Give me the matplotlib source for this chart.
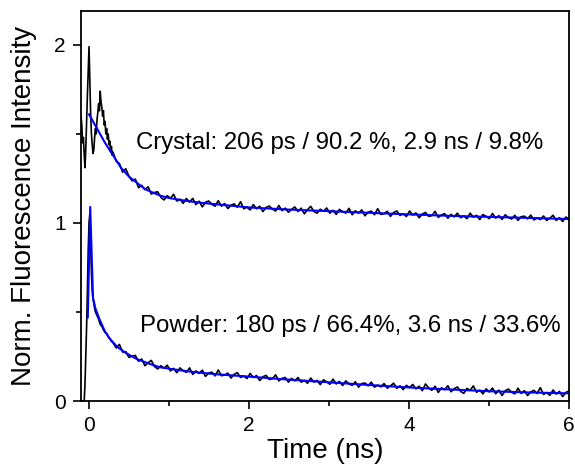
"""Fluorescence decay of crystal and powder samples with biexponential fits"""
import numpy as np
import matplotlib
matplotlib.use("Agg")
import matplotlib.pyplot as plt  # pylint: disable=import-error
from matplotlib.ticker import MultipleLocator

plt.rcParams["font.family"] = ["Liberation Sans", "DejaVu Sans"]

# crystal trace (offset by +1), early part sampled finely
crystal_t_early = [-0.1, -0.09, -0.08, -0.07, -0.06, -0.05, -0.04, -0.03, -0.02, -0.01,
                   0.0, 0.01, 0.02, 0.03, 0.04, 0.05, 0.06, 0.07, 0.08, 0.09,
                   0.1, 0.11, 0.12, 0.13, 0.14, 0.15, 0.16, 0.17, 0.18, 0.19,
                   0.2, 0.21, 0.22, 0.23, 0.24, 0.25, 0.26, 0.27, 0.28, 0.29]
crystal_early = [1.60, 1.55, 1.45, 1.48, 1.38, 1.31, 1.42, 1.58, 1.72, 1.86,
                 1.99, 1.80, 1.62, 1.50, 1.44, 1.39, 1.41, 1.48, 1.53, 1.50,
                 1.58, 1.62, 1.67, 1.63, 1.74, 1.68, 1.65, 1.60, 1.63, 1.55,
                 1.57, 1.50, 1.53, 1.47, 1.50, 1.44, 1.46, 1.40, 1.43, 1.38]
# tail from 0.3 ns to 6 ns, ~0.04 ns per sample
crystal_tail = [
    1.398, 1.346, 1.334, 1.285, 1.304, 1.262, 1.236, 1.246, 1.198, 1.211,
    1.187, 1.203, 1.162, 1.171, 1.175, 1.144, 1.129, 1.153, 1.138, 1.161,
    1.123, 1.133, 1.110, 1.137, 1.117, 1.138, 1.103, 1.122, 1.090, 1.116,
    1.123, 1.104, 1.094, 1.125, 1.094, 1.109, 1.081, 1.099, 1.107, 1.088,
    1.119, 1.079, 1.089, 1.073, 1.103, 1.079, 1.094, 1.064, 1.087, 1.095,
    1.077, 1.067, 1.098, 1.069, 1.083, 1.060, 1.076, 1.090, 1.064, 1.083,
    1.051, 1.075, 1.093, 1.064, 1.055, 1.077, 1.065, 1.084, 1.055, 1.071,
    1.048, 1.076, 1.063, 1.055, 1.082, 1.046, 1.068, 1.055, 1.073, 1.040,
    1.060, 1.066, 1.046, 1.080, 1.048, 1.052, 1.065, 1.037, 1.058, 1.067,
    1.042, 1.051, 1.036, 1.067, 1.044, 1.056, 1.029, 1.050, 1.059, 1.037,
    1.041, 1.065, 1.031, 1.045, 1.052, 1.026, 1.048, 1.034, 1.055, 1.029,
    1.039, 1.024, 1.055, 1.032, 1.043, 1.019, 1.047, 1.037, 1.024, 1.053,
    1.027, 1.041, 1.020, 1.046, 1.030, 1.022, 1.043, 1.014, 1.035, 1.038,
    1.023, 1.044, 1.017, 1.028, 1.019, 1.039, 1.014, 1.027, 1.043, 1.014,
    1.029, 1.008, 1.033, 1.022]

crystal_fit_t = [0.0, 0.1, 0.2, 0.3, 0.4, 0.5, 0.6, 0.7, 0.8, 0.9, 1.0, 1.2, 1.4, 1.7,
                 2.0, 2.5, 3.0, 3.5, 4.0, 4.5, 5.0, 5.5, 6.0]
crystal_fit = [1.61, 1.53, 1.45, 1.38, 1.31, 1.26, 1.225, 1.19, 1.17, 1.152, 1.14, 1.125,
               1.113, 1.10, 1.087, 1.075, 1.066, 1.057, 1.048, 1.04, 1.034, 1.028, 1.022]

# powder trace
powder_t_early = [-0.1, -0.06, -0.05, -0.04, -0.03, -0.02, -0.01, 0.0, 0.01, 0.02, 0.03,
                  0.04, 0.05, 0.06, 0.07, 0.08, 0.1, 0.12, 0.14, 0.16, 0.18, 0.2, 0.22,
                  0.24, 0.26, 0.28]
powder_early = [0.0, 0.0, 0.10, 0.25, 0.42, 0.62, 0.85, 1.0, 1.05, 0.90, 0.72,
                0.62, 0.57, 0.55, 0.52, 0.50, 0.48, 0.46, 0.43, 0.42, 0.40, 0.385, 0.38,
                0.36, 0.35, 0.335]
powder_tail = [
    0.327, 0.298, 0.318, 0.275, 0.277, 0.245, 0.252, 0.256, 0.223, 0.236,
    0.198, 0.215, 0.228, 0.194, 0.180, 0.198, 0.184, 0.201, 0.169, 0.183,
    0.159, 0.186, 0.170, 0.161, 0.186, 0.149, 0.169, 0.155, 0.173, 0.138,
    0.157, 0.162, 0.141, 0.174, 0.142, 0.146, 0.157, 0.129, 0.150, 0.159,
    0.132, 0.141, 0.126, 0.155, 0.132, 0.143, 0.115, 0.136, 0.144, 0.121,
    0.125, 0.147, 0.113, 0.127, 0.132, 0.106, 0.127, 0.113, 0.132, 0.106,
    0.115, 0.100, 0.129, 0.106, 0.116, 0.092, 0.119, 0.108, 0.094, 0.123,
    0.096, 0.110, 0.087, 0.113, 0.096, 0.088, 0.108, 0.078, 0.098, 0.101,
    0.085, 0.106, 0.078, 0.089, 0.079, 0.098, 0.072, 0.085, 0.100, 0.071,
    0.085, 0.064, 0.088, 0.076, 0.093, 0.068, 0.083, 0.058, 0.096, 0.073,
    0.060, 0.083, 0.048, 0.074, 0.063, 0.086, 0.052, 0.069, 0.079, 0.054,
    0.043, 0.071, 0.060, 0.085, 0.049, 0.061, 0.040, 0.068, 0.051, 0.073,
    0.041, 0.061, 0.031, 0.058, 0.067, 0.049, 0.040, 0.072, 0.043, 0.058,
    0.031, 0.051, 0.060, 0.042, 0.075, 0.037, 0.047, 0.032, 0.062, 0.039,
    0.054, 0.025, 0.048, 0.057]

powder_fit_t = [-0.015, 0.015, 0.05, 0.08, 0.13, 0.2, 0.26, 0.35, 0.46, 0.6, 0.75, 0.88,
                1.1, 1.3, 1.6, 2.0, 2.5, 3.0, 3.5, 4.0, 4.5, 5.0, 5.5, 6.0]
powder_fit = [0.47, 1.09, 0.58, 0.52, 0.46, 0.39, 0.35, 0.305, 0.27, 0.235, 0.21, 0.19,
              0.175, 0.163, 0.15, 0.137, 0.12, 0.105, 0.09, 0.076, 0.065, 0.055, 0.048, 0.043]

crystal_label = "Crystal: 206 ps / 90.2 %, 2.9 ns / 9.8%"
powder_label = "Powder: 180 ps / 66.4%, 3.6 ns / 33.6%"

crystal_t = np.concatenate([crystal_t_early, np.linspace(0.3, 6.0, len(crystal_tail))])
crystal_y = np.concatenate([crystal_early, crystal_tail])
powder_t = np.concatenate([powder_t_early, np.linspace(0.3, 6.0, len(powder_tail))])
powder_y = np.concatenate([powder_early, powder_tail])

fig = plt.figure(figsize=(5.75, 4.67), dpi=100)
ax = fig.add_axes([0.1409, 0.1413, 0.8487, 0.8351])

ax.plot(crystal_t, crystal_y, color="black", lw=1.2)
ax.plot(powder_t, powder_y, color="black", lw=1.2)
ax.plot(crystal_fit_t, crystal_fit, color="#0000ff", lw=1.5)
ax.plot(powder_fit_t, powder_fit, color="#0000ff", lw=1.5)

ax.text(0.59, 1.45, crystal_label, fontsize=17.3, va="center")
ax.text(0.64, 0.42, powder_label, fontsize=17.3, va="center")

ax.set_xlim(-0.1, 6)
ax.set_ylim(0, 2.19)
ax.xaxis.set_major_locator(MultipleLocator(2))
ax.xaxis.set_minor_locator(MultipleLocator(1))
ax.yaxis.set_major_locator(MultipleLocator(1))
ax.yaxis.set_minor_locator(MultipleLocator(0.5))
ax.tick_params(which="both", direction="out", width=1.2, labelsize=15, pad=5)
ax.tick_params(which="major", length=6)
ax.tick_params(which="minor", length=3.5)
for spine in ax.spines.values():
    spine.set_linewidth(1.3)

ax.set_xlabel("Time (ns)", fontsize=20, labelpad=2)
ax.set_ylabel("Norm. Fluorescence Intensity", fontsize=20, labelpad=12)

fig.savefig("out.png", dpi=100)
